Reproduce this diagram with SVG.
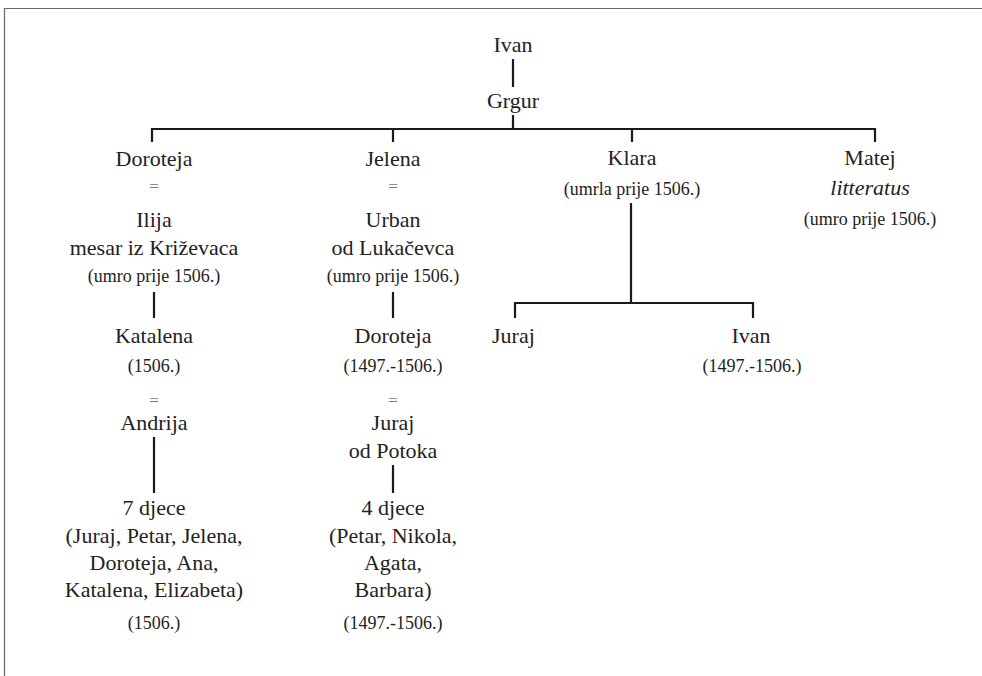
<svg xmlns="http://www.w3.org/2000/svg" width="982" height="676" viewBox="0 0 982 676">
<style>
.n,.s,.e{font-family:'Liberation Serif',serif}
.n{font-size:22px}
.s{font-size:18px}
.e{font-size:17px;fill:#777}
.l{stroke:#1a1a1a;stroke-width:2.2;fill:none}
</style>
<rect width="982" height="676" fill="#fff"/>
<path d="M4.5,676 V8.5 H982" fill="none" stroke="#666" stroke-width="1.2"/>
<g id="connectors">
<path class="l" d="M513,59 V87"/>
<path class="l" d="M513,115 V129"/>
<path class="l" d="M152,142 V129 H875 V142"/>
<path class="l" d="M393,129 V142"/>
<path class="l" d="M632,129 V142"/>
<path class="l" d="M154,292 V318"/>
<path class="l" d="M393,292 V318"/>
<path class="l" d="M154,437 V493"/>
<path class="l" d="M393,465 V493"/>
<path class="l" d="M631,203 V303"/>
<path class="l" d="M515,318 V303 H753 V318"/>
</g>
<g fill="#222" text-anchor="middle">
<g id="ivan"><text class="n" x="513" y="52">Ivan</text></g>
<g id="grgur"><text class="n" x="513" y="108">Grgur</text></g>
<g id="doroteja">
<text class="n" x="154" y="166">Doroteja</text>
<text class="e" x="154" y="192">=</text>
</g>
<g id="ilija">
<text class="n" x="154" y="227">Ilija</text>
<text class="n" x="154" y="255">mesar iz Križevaca</text>
<text class="s" x="154" y="282">(umro prije 1506.)</text>
</g>
<g id="katalena">
<text class="n" x="154" y="343">Katalena</text>
<text class="s" x="154" y="372">(1506.)</text>
<text class="e" x="154" y="406">=</text>
</g>
<g id="andrija"><text class="n" x="154" y="430">Andrija</text></g>
<g id="djece7">
<text class="n" x="154" y="515">7 djece</text>
<text class="n" x="154" y="543">(Juraj, Petar, Jelena,</text>
<text class="n" x="154" y="570">Doroteja, Ana,</text>
<text class="n" x="154" y="597">Katalena, Elizabeta)</text>
<text class="s" x="154" y="629">(1506.)</text>
</g>
<g id="jelena">
<text class="n" x="393" y="166">Jelena</text>
<text class="e" x="393" y="192">=</text>
</g>
<g id="urban">
<text class="n" x="393" y="227">Urban</text>
<text class="n" x="393" y="255">od Lukačevca</text>
<text class="s" x="393" y="282">(umro prije 1506.)</text>
</g>
<g id="doroteja2">
<text class="n" x="393" y="343">Doroteja</text>
<text class="s" x="393" y="372">(1497.-1506.)</text>
<text class="e" x="393" y="406">=</text>
</g>
<g id="juraj-potok">
<text class="n" x="393" y="430">Juraj</text>
<text class="n" x="393" y="458">od Potoka</text>
</g>
<g id="djece4">
<text class="n" x="393" y="515">4 djece</text>
<text class="n" x="393" y="543">(Petar, Nikola,</text>
<text class="n" x="393" y="570">Agata,</text>
<text class="n" x="393" y="597">Barbara)</text>
<text class="s" x="393" y="629">(1497.-1506.)</text>
</g>
<g id="klara">
<text class="n" x="632" y="165">Klara</text>
<text class="s" x="632" y="195">(umrla prije 1506.)</text>
</g>
<g id="juraj"><text class="n" x="492" y="343" text-anchor="start">Juraj</text></g>
<g id="ivan2">
<text class="n" x="751" y="343">Ivan</text>
<text class="s" x="752" y="372">(1497.-1506.)</text>
</g>
<g id="matej">
<text class="n" x="870" y="165">Matej</text>
<text class="n" x="870" y="195" font-style="italic">litteratus</text>
<text class="s" x="870" y="225">(umro prije 1506.)</text>
</g>
</g>
</svg>
